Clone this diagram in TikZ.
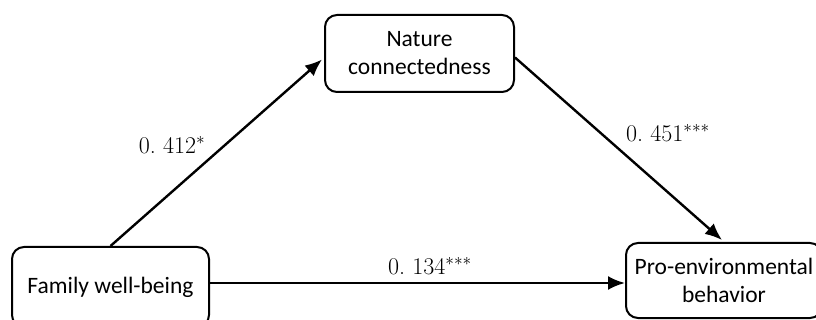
\documentclass[tikz,border=0pt]{standalone}
\usepackage{fontspec}
\newfontfamily\boxfont{Carlito}
\usetikzlibrary{arrows.meta,calc}
\tikzset{
  varbox/.style={draw=black, line width=2pt, rounded corners=12pt, fill=white,
    font=\boxfont\fontsize{23.5}{28}\selectfont, align=center, inner sep=0pt},
  path/.style={draw=black, line width=2.4pt, -{Latex[length=17pt,width=14pt]}},
  coef/.style={font=\fontsize{24}{28}\selectfont, inner sep=0pt}
}
\begin{document}
\begin{tikzpicture}[x=1pt,y=-1pt]
\useasboundingbox (0,0) rectangle (816,320);
\clip (0,0) rectangle (816,320);
% variables
\node[varbox, minimum width=197pt, minimum height=80pt] (fam) at (110.5,287) {Family well-being};
\node[varbox, minimum width=189pt, minimum height=77pt] (nat) at (419.5,53.5) {Nature\\connectedness};
\node[varbox, minimum width=196pt, minimum height=75pt] (pro) at (724,280.5) {Pro-environmental\\behavior};
% paths
\coordinate (natin) at ($(nat.west)+(-2,6)$);
\coordinate (natout) at ($(nat.east)+(0,4)$);
\coordinate (famout) at ($(fam.east)+(0,-4)$);
\draw[path] (fam.north) -- (natin);
\draw[path] (natout) -- ($(pro.north)+(-2,-2)$);
\draw[path] (famout) -- (pro.west |- famout);
% coefficients
\node[coef] (c1) at (172,145) {0.\ 412$^{*}$};
\node[coef] (c2) at (668,133) {0.\ 451$^{***}$};
\node[coef] (c3) at (430,266) {0.\ 134$^{***}$};
\end{tikzpicture}
\end{document}
